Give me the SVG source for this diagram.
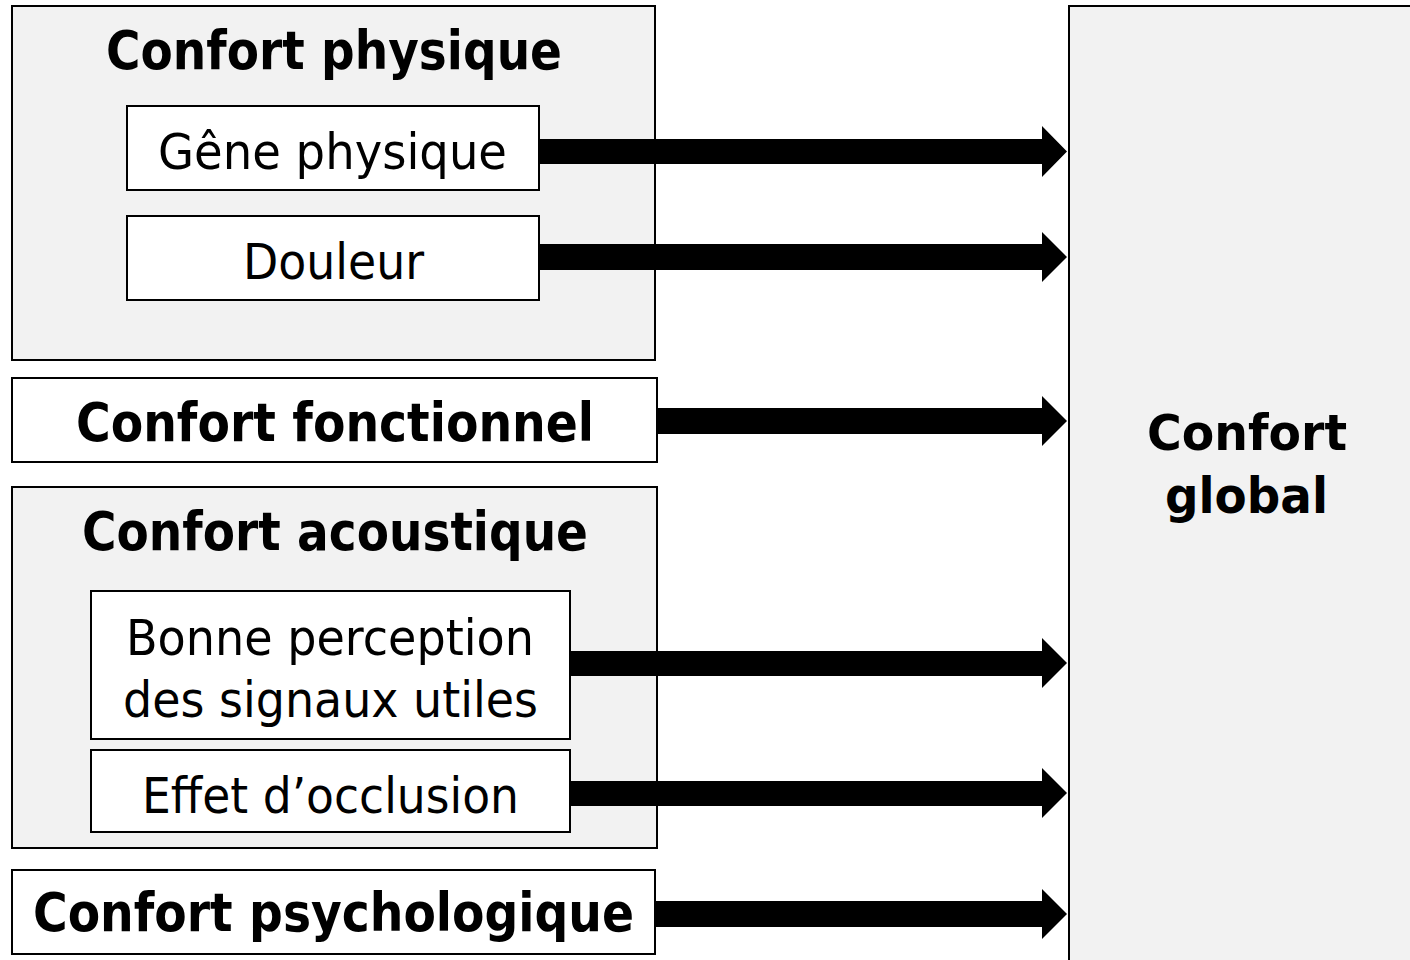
<svg xmlns="http://www.w3.org/2000/svg" width="1410" height="960" viewBox="0 0 1410 960">
<style>
.grp{fill:#f2f2f2;stroke:#000;stroke-width:2}
.box{fill:#fff;stroke:#000;stroke-width:2}
.t{font-family:"DejaVu Sans","Liberation Sans",sans-serif;fill:#000;text-anchor:middle}
.b{font-weight:bold;font-size:53px}
.r{font-size:50px}
.g{font-weight:bold;font-size:49px}
.arr{fill:#000}
</style>
<rect width="1410" height="960" fill="#fff"/>
<g id="confort-global">
<rect class="grp" x="1069" y="6" width="360" height="970"/>
<text class="t g" x="1247" y="450" textLength="200" lengthAdjust="spacingAndGlyphs">Confort</text>
<text class="t g" x="1246.5" y="513" textLength="163" lengthAdjust="spacingAndGlyphs">global</text>
</g>
<g id="confort-physique">
<rect class="grp" x="12" y="6" width="643" height="354"/>
<text class="t b" x="334" y="69" textLength="456" lengthAdjust="spacingAndGlyphs">Confort physique</text>
</g>
<g id="gene-physique">
<rect class="box" x="127" y="106" width="412" height="84"/>
<text class="t r" x="332.5" y="169" textLength="349" lengthAdjust="spacingAndGlyphs">Gêne physique</text>
</g>
<g id="douleur">
<rect class="box" x="127" y="216" width="412" height="84"/>
<text class="t r" x="333.5" y="279" textLength="181" lengthAdjust="spacingAndGlyphs">Douleur</text>
</g>
<g id="confort-fonctionnel">
<rect class="box" x="12" y="378" width="645" height="84"/>
<text class="t b" x="335" y="441" textLength="518" lengthAdjust="spacingAndGlyphs">Confort fonctionnel</text>
</g>
<g id="confort-acoustique">
<rect class="grp" x="12" y="487" width="645" height="361"/>
<text class="t b" x="335" y="550" textLength="506" lengthAdjust="spacingAndGlyphs">Confort acoustique</text>
</g>
<g id="bonne-perception">
<rect class="box" x="91" y="591" width="479" height="148"/>
<text class="t r" x="330" y="655" textLength="408" lengthAdjust="spacingAndGlyphs">Bonne perception</text>
<text class="t r" x="330.5" y="717" textLength="415" lengthAdjust="spacingAndGlyphs">des signaux utiles</text>
</g>
<g id="effet-occlusion">
<rect class="box" x="91" y="750" width="479" height="82"/>
<text class="t r" x="330.5" y="813" textLength="377" lengthAdjust="spacingAndGlyphs">Effet d’occlusion</text>
</g>
<g id="confort-psychologique">
<rect class="box" x="12" y="870" width="643" height="84"/>
<text class="t b" x="333.5" y="931" textLength="601" lengthAdjust="spacingAndGlyphs">Confort psychologique</text>
</g>
<g id="connectors">
<polygon class="arr" points="540,139 1042,139 1042,126 1067,151.5 1042,177 1042,164 540,164"/>
<polygon class="arr" points="540,244 1042,244 1042,232 1067,257 1042,282 1042,270 540,270"/>
<polygon class="arr" points="657,408 1042,408 1042,396 1067,421 1042,446 1042,434 657,434"/>
<polygon class="arr" points="570,651 1042,651 1042,638 1067,663 1042,688 1042,676 570,676"/>
<polygon class="arr" points="570,781 1042,781 1042,768 1067,793 1042,818 1042,806 570,806"/>
<polygon class="arr" points="655,901 1042,901 1042,889 1067,914 1042,939 1042,927 655,927"/>
</g>
</svg>
